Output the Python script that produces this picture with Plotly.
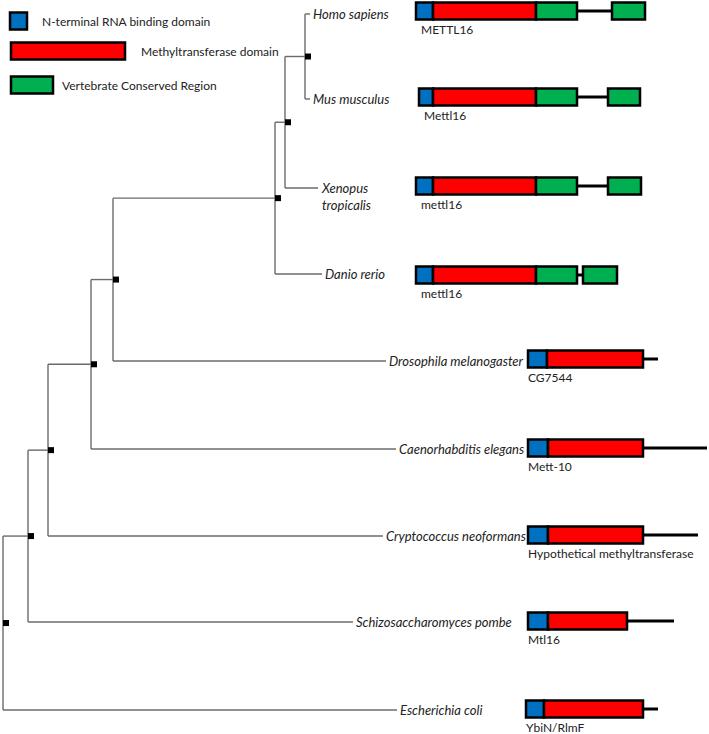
import plotly.graph_objects as go

# leaves of the tree, top to bottom
species = ['Homo sapiens', 'Mus musculus', 'Xenopus<br>tropicalis', 'Danio rerio',
           'Drosophila melanogaster', 'Caenorhabditis elegans', 'Cryptococcus neoformans',
           'Schizosaccharomyces pombe', 'Escherichia coli']
leaf_y = [14, 99, 188, 274, 361, 449, 536, 622, 710]
leaf_end_x = [310, 310, 318, 322, 386, 396, 383, 353, 397]

# internal nodes, innermost first: x of the vertical bar
# node i joins node i-1 (or the first leaf) with leaf i+1
node_x = [305, 285, 275, 113, 91, 48, 28, 3]

# protein names and domain boundaries (x of blue start, red start, red end / green start, green end)
proteins = ['METTL16', 'Mettl16', 'mettl16', 'mettl16', 'CG7544', 'Mett-10',
            'Hypothetical methyltransferase', 'Mtl16', 'YbiN/RlmF']
box_y = [11, 97, 186, 275, 359, 448, 535, 621, 709]
nterm_start = [416, 419, 416, 416, 528, 528, 528, 528, 526]
mtase_start = [433, 433, 433, 433, 547, 548, 548, 548, 544]
mtase_end = [536, 536, 536, 536, 643, 643, 643, 627, 643]
vcr_end = [577, 577, 577, 577, None, None, None, None, None]
tail_end = [612, 608, 608, 583, 658, 707, 698, 674, 658]
vcr2 = [(612, 645), (608, 640), (608, 641), (583, 617), None, None, None, None, None]

legend_items = ['N-terminal RNA binding domain', 'Methyltransferase domain',
                'Vertebrate Conserved Region']

BLUE = '#0070C0'
RED = '#FF0000'
GREEN = '#00B050'
FONT = 'Lato'

W, H = 709, 734
fig = go.Figure()

# ---- tree branches ----
xs, ys = [], []
sq_x, sq_y = [], []
top_y = leaf_y[0]
for i, nx in enumerate(node_x):
    low_y = leaf_y[i + 1]
    # vertical bar
    xs += [nx, nx, None]
    ys += [top_y, low_y, None]
    # branch to the lower leaf
    xs += [nx, leaf_end_x[i + 1], None]
    ys += [low_y, low_y, None]
    if i == 0:
        # branch to the first leaf
        xs += [nx, leaf_end_x[0], None]
        ys += [top_y, top_y, None]
    mid = (top_y + low_y) / 2
    sq_x.append(nx + 3)
    sq_y.append(mid)
    if i + 1 < len(node_x):
        # horizontal link up to the parent bar
        xs += [node_x[i + 1], nx, None]
        ys += [mid, mid, None]
    top_y = mid

fig.add_trace(go.Scatter(x=xs, y=ys, mode='lines', line=dict(color='#6b6b6b', width=1.4),
                         hoverinfo='skip', showlegend=False))
fig.add_trace(go.Scatter(x=sq_x, y=sq_y, mode='markers',
                         marker=dict(symbol='square', size=6, color='black', line_width=0),
                         hoverinfo='skip', showlegend=False))

for name, y, x in zip(species, leaf_y, leaf_end_x):
    yy = y + 8 if '<br>' in name else y
    fig.add_annotation(x=x + 1, y=yy, text='<i>' + name + '</i>', showarrow=False,
                       xanchor='left', yanchor='middle', align='left',
                       font=dict(family=FONT, size=13, color='#222'))

# ---- domain diagrams ----
BH = 8.5  # half-height of a box


def box(x0, x1, yc, color, h=BH):
    fig.add_shape(type='rect', x0=x0, x1=x1, y0=yc - h, y1=yc + h,
                  fillcolor=color, line=dict(color='black', width=2.5), layer='above')


for i, p in enumerate(proteins):
    yc = box_y[i]
    end = vcr_end[i] if vcr_end[i] else mtase_end[i]
    # linker / tail
    fig.add_shape(type='line', x0=end, x1=tail_end[i], y0=yc, y1=yc,
                  line=dict(color='black', width=3))
    box(nterm_start[i], mtase_start[i], yc, BLUE)
    box(mtase_start[i], mtase_end[i], yc, RED)
    if vcr_end[i]:
        box(mtase_end[i], vcr_end[i], yc, GREEN)
    if vcr2[i]:
        box(vcr2[i][0], vcr2[i][1], yc, GREEN)
    fig.add_annotation(x=nterm_start[i] + (5 if i < 4 else 0) - 2, y=yc + 18, text=p,
                       showarrow=False, xanchor='left', yanchor='middle',
                       font=dict(family=FONT, size=12, color='#222'))

# ---- legend ----
leg_boxes = [(10, 27, 21, BLUE), (11, 125, 51, RED), (11, 53, 85, GREEN)]
leg_text_x = [42, 141, 62]
for (x0, x1, yc, col), label, tx in zip(leg_boxes, legend_items, leg_text_x):
    box(x0, x1, yc, col)
    fig.add_annotation(x=tx - 2, y=yc, text=label, showarrow=False, xanchor='left',
                       yanchor='middle', font=dict(family=FONT, size=12, color='#222'))

fig.update_xaxes(range=[0, W], visible=False, fixedrange=True)
fig.update_yaxes(range=[H, 0], visible=False, fixedrange=True)
fig.update_layout(width=W, height=H, margin=dict(l=0, r=0, t=0, b=0),
                  paper_bgcolor='white', plot_bgcolor='white')

fig.write_html('out.html', config={'displayModeBar': False},
               post_script="document.body.style.margin='0';document.body.style.overflow='hidden';")
